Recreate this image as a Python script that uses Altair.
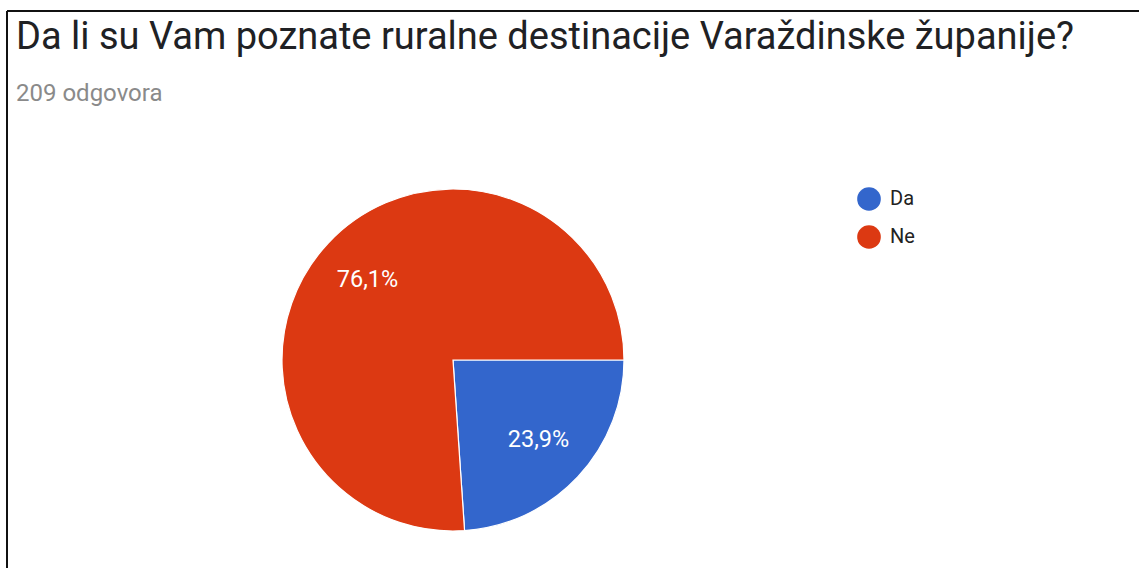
import math
import altair as alt
import pandas as pd

title_text = "Da li su Vam poznate ruralne destinacije Varaždinske županije?"
subtitle_text = "209 odgovora"
answers = ["Da", "Ne"]
counts = [50, 159]
colors = ["#3366cc", "#dc3912"]

total = sum(counts)
labels = [f"{c / total * 100:.1f}".replace(".", ",") + "%" for c in counts]
df = pd.DataFrame({"answer": answers, "count": counts, "label": labels, "idx": list(range(len(answers)))})

W, H = 1100, 557
theta_scale = alt.Scale(range=[math.pi / 2, math.pi / 2 + 2 * math.pi])
cx, cy = 446, 349

base = alt.Chart(df).encode(
    theta=alt.Theta("count:Q", stack=True, scale=theta_scale),
    order=alt.Order("idx:Q"),
    x=alt.value(cx),
    y=alt.value(cy),
)

pie = base.mark_arc(outerRadius=171, stroke="white", strokeWidth=1.2).encode(
    color=alt.Color(
        "answer:N",
        scale=alt.Scale(domain=answers, range=colors),
        legend=alt.Legend(
            title=None,
            orient="none",
            legendX=850,
            legendY=176,
            symbolType="circle",
            symbolSize=560,
            symbolStrokeWidth=0,
            symbolOpacity=1,
            labelFontSize=20,
            labelFont="Roboto",
            labelColor="#222222",
            labelOffset=9,
            rowPadding=14,
        ),
    )
)

pct = base.mark_text(radius=117, fontSize=23.5, font="Roboto", color="white").encode(text="label:N")

title = alt.Chart(pd.DataFrame({"t": [title_text]})).mark_text(
    align="left", baseline="alphabetic", fontSize=38, font="Roboto", color="#202124"
).encode(text="t:N", x=alt.value(9), y=alt.value(38))

subtitle = alt.Chart(pd.DataFrame({"t": [subtitle_text]})).mark_text(
    align="left", baseline="alphabetic", fontSize=24, font="Roboto", color="#8a8a8a"
).encode(text="t:N", x=alt.value(9), y=alt.value(90))

left_border = alt.Chart(pd.DataFrame({"k": [0]})).mark_rule(color="#111111", strokeWidth=2).encode(
    x=alt.value(0), y=alt.value(0), y2=alt.value(H)
)
top_border = alt.Chart(pd.DataFrame({"k": [0]})).mark_rule(color="#111111", strokeWidth=2).encode(
    y=alt.value(0), x=alt.value(0), x2=alt.value(1132)
)

chart = (
    alt.layer(pie, pct, title, subtitle, left_border, top_border)
    .properties(
        width=W,
        height=H,
        autosize=alt.AutoSizeParams(type="none"),
        padding={"left": 7, "top": 11, "right": 32, "bottom": 0},
    )
    .configure(background="white")
    .configure_view(stroke="transparent", strokeWidth=0)
)

chart.save("out.html", embed_options={"renderer": "svg", "actions": False})
